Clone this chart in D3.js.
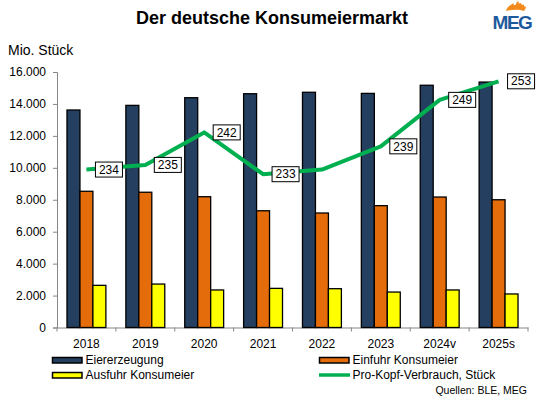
<!DOCTYPE html>
<html>
<head>
<meta charset="utf-8">
<script src="https://cdn.jsdelivr.net/npm/d3@7"></script>
<style>
  body { margin: 0; background: #fff; }
  text { font-family: "Liberation Sans", Arial, sans-serif; fill: #000; }
</style>
</head>
<body>
<div id="chart"></div>
<script>
// chart data
var years = ["2018", "2019", "2020", "2021", "2022", "2023", "2024v", "2025s"];
var eiererzeugung = [13620, 13910, 14390, 14640, 14730, 14660, 15170, 15370];
var einfuhr = [8530, 8470, 8190, 7310, 7170, 7630, 8170, 8000];
var ausfuhr = [2640, 2720, 2350, 2450, 2430, 2220, 2350, 2100];
var proKopf = [234, 235, 242, 233, 234, 239, 249, 253];
var proKopfLabels = ["234", "235", "242", "233", null, "239", "249", "253"];
var yTicks = [0, 2000, 4000, 6000, 8000, 10000, 12000, 14000, 16000];

var seriesNames = ["Eiererzeugung", "Einfuhr Konsumeier", "Ausfuhr Konsumeier"];
var seriesValues = [eiererzeugung, einfuhr, ausfuhr];
var seriesColors = ["#243f60", "#e46c0a", "#ffff00"];
var lineName = "Pro-Kopf-Verbrauch, Stück";
var lineColor = "#00b050";

var width = 540, height = 396;
var plot = {left: 57, right: 528, top: 72, bottom: 327.5};

var svg = d3.select("#chart").append("svg")
	.attr("width", width)
	.attr("height", height);

var de = d3.formatLocale({decimal: ",", thousands: ".", grouping: [3], currency: ["", " €"]});
var fmt = de.format(",.0f");

var x0 = d3.scaleBand()
	.domain(years)
	.range([plot.left, plot.right])
	.padding(0);

var x1 = d3.scaleBand()
	.domain(d3.range(seriesNames.length))
	.range([0, x0.bandwidth()])
	.paddingInner(0)
	.paddingOuter(0.77);

var y = d3.scaleLinear()
	.domain([0, 16000])
	.range([plot.bottom, plot.top]);

// secondary axis for the line (not drawn)
var y2 = d3.scaleLinear()
	.domain([200, 255])
	.range([plot.bottom, plot.top]);

// title
svg.append("text")
	.attr("x", 272)
	.attr("y", 24)
	.attr("text-anchor", "middle")
	.style("font-size", "18px")
	.style("font-weight", "bold")
	.text("Der deutsche Konsumeiermarkt");

// MEG logo
var logo = svg.append("g").attr("transform", "translate(490,0)");
logo.append("path")
	.attr("d", "M16,11 C17,7 20,5 24,3 C23,5 24,6 26,4.5 C26,3 27,1.5 28.5,1 C28,3 29,4 31,3 C31,4.5 32,5 34,4.5 C33.5,6 34.5,7 36,6.5 C35.5,8.5 35,10 34,11 C29,9 22,9.5 16,11 Z")
	.attr("fill", "#f28a1c");
logo.append("text")
	.attr("x", 22)
	.attr("y", 28.5)
	.attr("text-anchor", "middle")
	.style("font-size", "19px")
	.style("font-weight", "bold")
	.style("letter-spacing", "-1.5px")
	.style("fill", "#1d5a9c")
	.text("MEG");

// unit label
svg.append("text")
	.attr("x", 8)
	.attr("y", 55)
	.style("font-size", "14px")
	.text("Mio. Stück");

// y axis
var yAxis = svg.append("g")
	.attr("transform", "translate(" + plot.left + ",0)")
	.call(d3.axisLeft(y).tickValues(yTicks).tickSize(4).tickPadding(7).tickFormat(fmt));
yAxis.selectAll("text").style("font-size", "12px");

// x axis, ticks on the category borders
var xAxis = svg.append("g")
	.attr("transform", "translate(0," + plot.bottom + ")")
	.call(d3.axisBottom(x0).tickSize(0).tickPadding(12));
xAxis.selectAll("text").style("font-size", "12px");
xAxis.selectAll(".bound")
	.data(d3.range(years.length + 1))
	.enter().append("line")
	.attr("class", "bound")
	.attr("x1", function(d) { return plot.left + d * x0.step(); })
	.attr("x2", function(d) { return plot.left + d * x0.step(); })
	.attr("y1", 0)
	.attr("y2", 4);

svg.selectAll(".domain, .tick line, .bound")
	.attr("stroke", "#868686")
	.attr("stroke-width", 1);

// bars
for (var s = 0; s < seriesNames.length; s++) {
	svg.append("g").selectAll("rect")
		.data(seriesValues[s])
		.enter().append("rect")
		.attr("x", function(d, i) { return x0(years[i]) + x1(s); })
		.attr("y", function(d) { return y(d); })
		.attr("width", x1.bandwidth())
		.attr("height", function(d) { return plot.bottom - y(d); })
		.attr("fill", seriesColors[s])
		.attr("stroke", "#000")
		.attr("stroke-width", 1.3);
}

// per-capita line
var lineGen = d3.line()
	.x(function(d, i) { return x0(years[i]) + x0.bandwidth() / 2; })
	.y(function(d) { return y2(d); });

svg.append("path")
	.datum(proKopf)
	.attr("d", lineGen)
	.attr("fill", "none")
	.attr("stroke", lineColor)
	.attr("stroke-width", 4)
	.attr("stroke-linejoin", "round");

// data labels
proKopf.forEach(function(d, i) {
	if (proKopfLabels[i] == null) return;
	var px = x0(years[i]) + x0.bandwidth() / 2;
	var py = y2(d);
	var g = svg.append("g").attr("transform", "translate(" + (px + 9) + "," + py + ")");
	g.append("rect")
		.attr("x", 0)
		.attr("y", -7.5)
		.attr("width", 27)
		.attr("height", 15)
		.attr("fill", "#fff")
		.attr("stroke", "#000")
		.attr("stroke-width", 1);
	g.append("text")
		.attr("x", 13.5)
		.attr("y", 4.2)
		.attr("text-anchor", "middle")
		.style("font-size", "12px")
		.text(proKopfLabels[i]);
});

// legend
var legendItems = [
	{name: seriesNames[0], color: seriesColors[0], type: "bar", x: 52, y: 360},
	{name: seriesNames[1], color: seriesColors[1], type: "bar", x: 319, y: 360},
	{name: seriesNames[2], color: seriesColors[2], type: "bar", x: 52, y: 375},
	{name: lineName, color: lineColor, type: "line", x: 319, y: 375}
];
var leg = svg.append("g").selectAll("g")
	.data(legendItems)
	.enter().append("g")
	.attr("transform", function(d) { return "translate(" + d.x + "," + d.y + ")"; });
leg.filter(function(d) { return d.type == "bar"; })
	.append("rect")
	.attr("x", 0.5)
	.attr("y", -2.5)
	.attr("width", 29.5)
	.attr("height", 5.5)
	.attr("fill", function(d) { return d.color; })
	.attr("stroke", "#000")
	.attr("stroke-width", 1.5);
leg.filter(function(d) { return d.type == "line"; })
	.append("line")
	.attr("x1", 0)
	.attr("x2", 31)
	.attr("y1", 0)
	.attr("y2", 0)
	.attr("stroke", function(d) { return d.color; })
	.attr("stroke-width", 3.5);
leg.append("text")
	.attr("x", 33.5)
	.attr("y", 4.3)
	.style("font-size", "12px")
	.text(function(d) { return d.name; });

// source
svg.append("text")
	.attr("x", 527)
	.attr("y", 394)
	.attr("text-anchor", "end")
	.style("font-size", "10.5px")
	.text("Quellen: BLE, MEG");
</script>
</body>
</html>
